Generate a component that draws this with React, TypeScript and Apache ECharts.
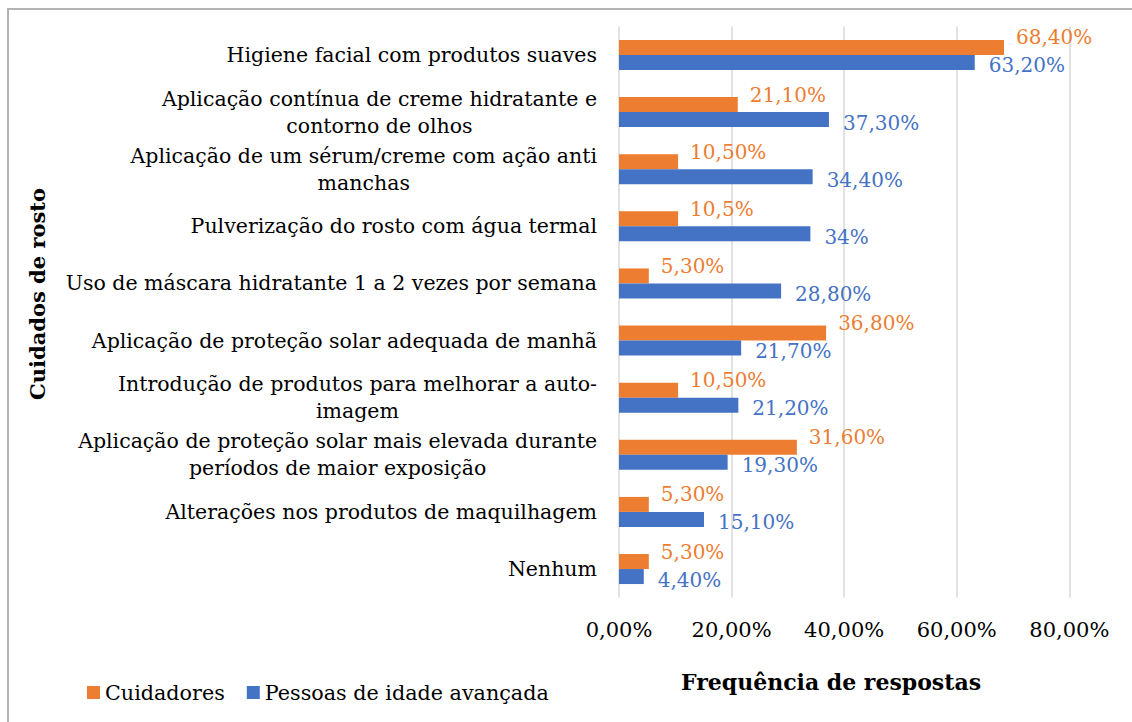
import React, { useEffect, useRef } from "react";
import * as echarts from "echarts";

const categories = [
  "Higiene facial com produtos suaves",
  "Aplicação contínua de creme hidratante e\ncontorno de olhos",
  "Aplicação de um sérum/creme com ação anti\nmanchas",
  "Pulverização do rosto com água termal",
  "Uso de máscara hidratante 1 a 2 vezes por semana",
  "Aplicação de proteção solar adequada de manhã",
  "Introdução de produtos para melhorar a auto-\nimagem",
  "Aplicação de proteção solar mais elevada durante\nperíodos de maior exposição",
  "Alterações nos produtos de maquilhagem",
  "Nenhum",
];

const seriesNames = ["Cuidadores", "Pessoas de idade avançada"];

const cuidadores = [68.4, 21.1, 10.5, 10.5, 5.3, 36.8, 10.5, 31.6, 5.3, 5.3];
const cuidadoresLabels = ["68,40%", "21,10%", "10,50%", "10,5%", "5,30%", "36,80%", "10,50%", "31,60%", "5,30%", "5,30%"];

const idosos = [63.2, 37.3, 34.4, 34, 28.8, 21.7, 21.2, 19.3, 15.1, 4.4];
const idososLabels = ["63,20%", "37,30%", "34,40%", "34%", "28,80%", "21,70%", "21,20%", "19,30%", "15,10%", "4,40%"];

const xTicks = { min: 0, max: 80, interval: 20 };

const axisTitleX = "Frequência de respostas";
const axisTitleY = "Cuidados de rosto";

const FONT = "'DejaVu Serif', Georgia, serif";
const ORANGE = "#ED7D31";
const BLUE = "#4472C4";

export default function App() {
  const ref = useRef<HTMLDivElement>(null);

  useEffect(() => {
    if (!ref.current) return;
    const chart = echarts.init(ref.current, null, { renderer: "svg" });
    chart.setOption({
      animation: false,
      backgroundColor: "#ffffff",
      grid: { left: 619, right: 62.7, top: 26.4, bottom: 124.4, containLabel: false },
      legend: {
        left: 87,
        top: 682,
        padding: 0,
        icon: "rect",
        itemWidth: 13,
        itemHeight: 13,
        itemGap: 22,
        data: seriesNames,
        textStyle: { fontFamily: FONT, fontSize: 20.7, color: "#000" },
      },
      xAxis: {
        type: "value",
        min: xTicks.min,
        max: xTicks.max,
        interval: xTicks.interval,
        axisLine: { show: false },
        axisTick: { show: false },
        splitLine: { show: true, lineStyle: { color: "#d9d9d9", width: 1.5 } },
        axisLabel: {
          margin: 22,
          fontFamily: FONT,
          fontSize: 21,
          color: "#000",
          formatter: (v: number) => v.toFixed(2).replace(".", ",") + "%",
        },
      },
      yAxis: {
        type: "category",
        inverse: true,
        data: categories,
        axisLine: { show: false },
        axisTick: { show: false },
        axisLabel: {
          margin: 22,
          fontFamily: FONT,
          fontSize: 20.5,
          color: "#000",
          lineHeight: 27,
          formatter: (v: string) =>
            v
              .split("\n")
              .map((l) => "{c|" + l + "}")
              .join("\n"),
          rich: {
            c: { align: "center", fontFamily: FONT, fontSize: 20.5, color: "#000", lineHeight: 27 },
          },
        },
      },
      series: [
        {
          name: seriesNames[0],
          type: "bar",
          data: cuidadores,
          barWidth: 15,
          barGap: "0%",
          itemStyle: { color: ORANGE },
          label: {
            show: true,
            position: "right",
            distance: 12,
            offset: [0, -10],
            fontFamily: FONT,
            fontSize: 20,
            color: ORANGE,
            formatter: (p: any) => cuidadoresLabels[p.dataIndex],
          },
        },
        {
          name: seriesNames[1],
          type: "bar",
          data: idosos,
          barWidth: 15,
          barGap: "0%",
          itemStyle: { color: BLUE },
          label: {
            show: true,
            position: "right",
            distance: 14,
            offset: [0, 3],
            fontFamily: FONT,
            fontSize: 20,
            color: BLUE,
            formatter: (p: any) => idososLabels[p.dataIndex],
          },
        },
      ],
      graphic: [
        {
          type: "rect",
          silent: true,
          shape: { x: 8, y: 9, width: 1300, height: 900 },
          style: { fill: "none", stroke: "#b3b3b3", lineWidth: 2 },
        },
        {
          type: "text",
          x: 831,
          y: 682,
          style: {
            text: axisTitleX,
            font: "bold 22px " + FONT,
            fill: "#000",
            textAlign: "center",
            textVerticalAlign: "middle",
          },
        },
        {
          type: "text",
          x: 37,
          y: 294,
          rotation: Math.PI / 2,
          style: {
            text: axisTitleY,
            font: "bold 21px " + FONT,
            fill: "#000",
            textAlign: "center",
            textVerticalAlign: "middle",
          },
        },
      ],
    });
    return () => chart.dispose();
  }, []);

  return (
    <div
      ref={ref}
      style={{ position: "fixed", left: 0, top: 0, width: 1132, height: 722, background: "#fff" }}
    />
  );
}
